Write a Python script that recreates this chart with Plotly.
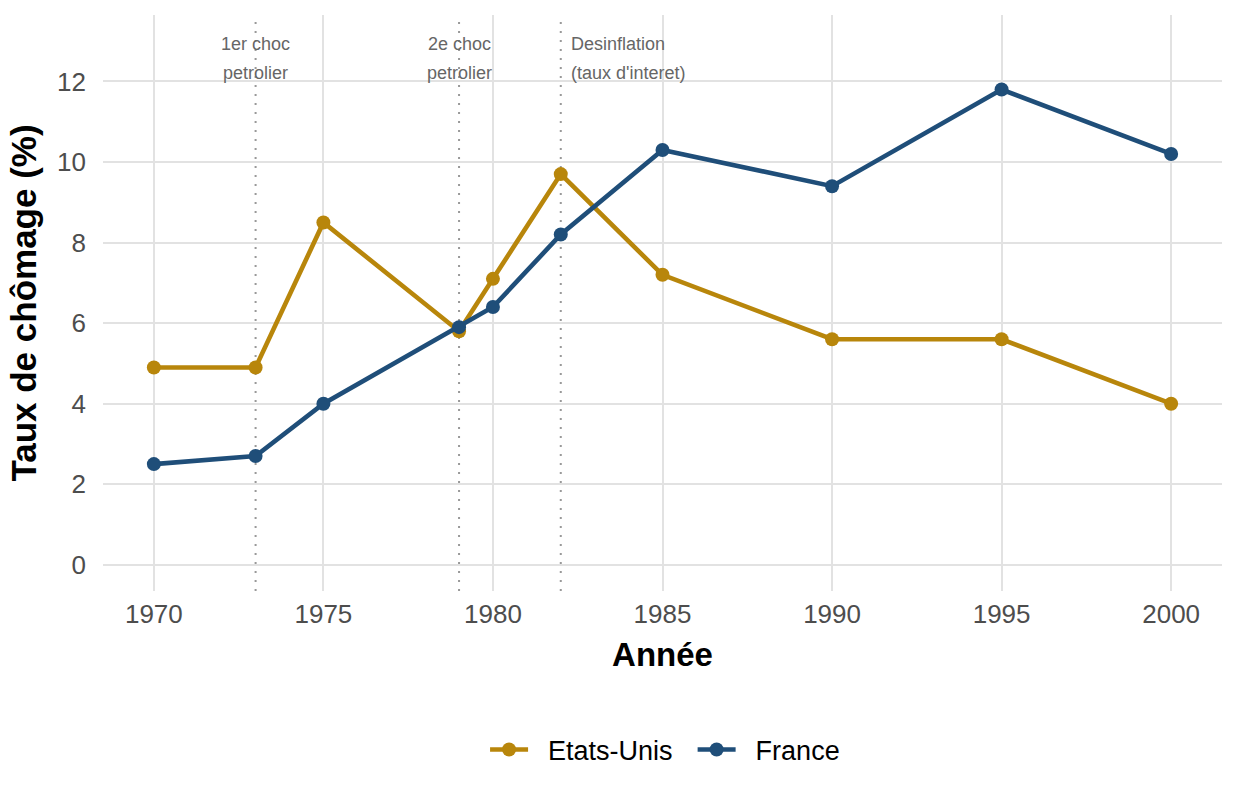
"""Taux de chômage France / Etats-Unis, 1970-2000, avec chocs annotés."""

import plotly.graph_objects as go

# --- data -------------------------------------------------------------
annees = [1970, 1973, 1975, 1979, 1980, 1982, 1985, 1990, 1995, 2000]
chomage_us = [4.9, 4.9, 8.5, 5.8, 7.1, 9.7, 7.2, 5.6, 5.6, 4.0]
chomage_fr = [2.5, 2.7, 4.0, 5.9, 6.4, 8.2, 10.3, 9.4, 11.8, 10.2]

evenements_annees = [1973, 1979, 1982]
evenements_labels = ["1er choc\npetrolier", "2e choc\npetrolier", "Desinflation\n(taux d'interet)"]

x_ticks = [1970, 1975, 1980, 1985, 1990, 1995, 2000]
y_ticks = [0, 2, 4, 6, 8, 10, 12]

COL_US = "#B8860B"
COL_FR = "#1F4E79"
FONT = "Liberation Sans, Arial, sans-serif"
NBSP = "\u00a0"

fig = go.Figure()
for name, vals, col in (("Etats-Unis", chomage_us, COL_US), ("France", chomage_fr, COL_FR)):
    fig.add_trace(
        go.Scatter(
            x=annees,
            y=vals,
            # padding so the legend text sits further from its key, like ggplot
            name=NBSP * 2 + name + NBSP * 2,
            mode="lines+markers",
            line=dict(color=col, width=4.6),
            marker=dict(color=col, size=14),
        )
    )

# vertical dotted lines + labels
for i, (yr, lab) in enumerate(zip(evenements_annees, evenements_labels)):
    fig.add_shape(
        type="line", xref="x", yref="paper", x0=yr, x1=yr, y0=0, y1=1,
        line=dict(color="#999999", width=2, dash="2px,7px"), layer="below",
    )
    last = i == len(evenements_annees) - 1
    for j, line in enumerate(lab.split("\n")):
        fig.add_annotation(
            x=yr, y=13, xref="x", yref="y", text=line, showarrow=False,
            xanchor="left" if last else "center", yanchor="middle",
            xshift=8 if last else 0, yshift=-3 - 29 * j,
            font=dict(family=FONT, size=18, color="#666666"),
        )

axis_common = dict(
    showgrid=True, gridcolor="#e2e2e2", gridwidth=2, zeroline=False,
    showline=False, ticks="", tickfont=dict(family=FONT, size=26, color="#4d4d4d"),
)
fig.update_xaxes(
    range=[1968.5, 2001.5], tickvals=x_ticks, ticklabelstandoff=5,
    title=dict(text="<b>Année</b>", font=dict(family=FONT, size=33, color="black"), standoff=14),
    **axis_common,
)
fig.update_yaxes(
    range=[-0.65, 13.65], tickvals=y_ticks, ticklabelstandoff=16,
    title=dict(text="<b>Taux de chômage (%)</b>", font=dict(family=FONT, size=35, color="black"), standoff=9),
    **axis_common,
)

fig.update_layout(
    width=1248, height=806,
    margin=dict(l=103, r=26, t=15, b=215),
    paper_bgcolor="white", plot_bgcolor="white",
    font=dict(family=FONT),
    legend=dict(
        orientation="h", x=0.509, xanchor="center", y=-0.276, yanchor="middle",
        itemwidth=38,
        font=dict(family=FONT, size=27, color="black"),
    ),
    showlegend=True,
)

# the page body has an 8px default margin; drop it so the figure sits at 0,0
fig.write_html(
    "out.html",
    config={"displayModeBar": False},
    post_script="document.body.style.margin='0';",
)
